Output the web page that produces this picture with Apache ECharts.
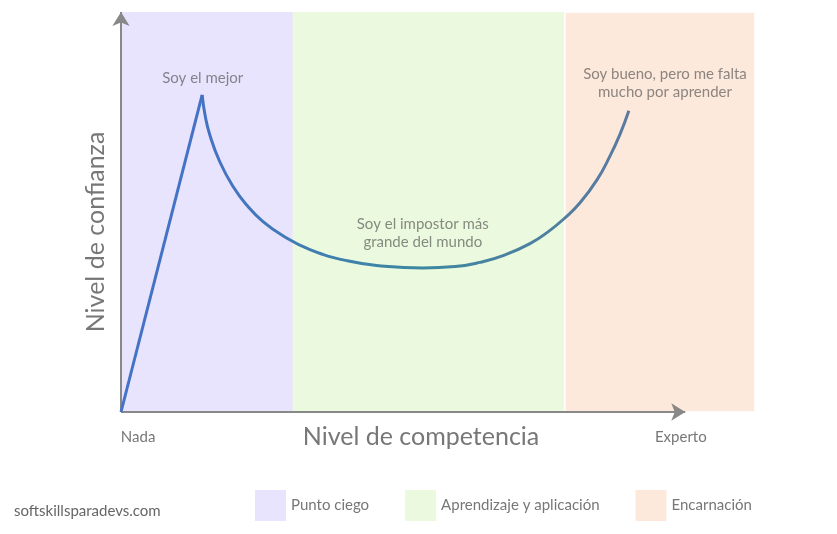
<!DOCTYPE html>
<html>
<head>
<meta charset="utf-8">
<script src="https://cdn.jsdelivr.net/npm/echarts@6/dist/echarts.min.js"></script>
<style>html,body{margin:0;padding:0;background:#fff}#c{width:837px;height:534px}</style>
</head>
<body>
<div id="c"></div>
<script>
// Data
const bandNames = ['Punto ciego', 'Aprendizaje y aplicación', 'Encarnación'];
const bandRanges = [[0, 27.1], [27.1, 70.0], [70.0, 100]];
const bandColors = ['#E9E4FD', '#EBF9DE', '#FDE9DC'];
const riseLine = [[0, 0], [12.8, 79.3]];
const curveLine = [
  [12.8, 79.3], [13.25, 74.3], [14.0, 69.3], [15.6, 62.5], [17.7, 56.3], [19.9, 51.6],
  [22.4, 47.6], [25.6, 44.0], [29.8, 40.6], [35.7, 37.8], [41.6, 36.45], [47.6, 36.0],
  [52.7, 36.35], [56.6, 37.4], [60.6, 39.3], [64.5, 42.1], [67.4, 45.1], [70.0, 48.5],
  [72.4, 52.3], [75.1, 58.1], [77.1, 63.9], [78.7, 69.4], [80.1, 75.3]
];
const notes = [
  { text: 'Soy el mejor', coord: [12.9, 83.5] },
  { text: 'Soy el impostor más\ngrande del mundo', coord: [47.6, 44.7] },
  { text: 'Soy bueno, pero me falta\nmucho por aprender', coord: [85.8, 82.3] }
];
const xTickValues = [2.7, 88.3];
const xTickLabels = ['Nada', 'Experto'];
const xAxisEnd = 89;
const yAxisEnd = 100;

const chart = echarts.init(document.getElementById('c'));
const font = 'Lato, "Noto Sans", sans-serif';
const axisColor = '#888';

const bandSeries = bandNames.map((n, i) => ({
  name: n,
  type: 'line',
  data: [],
  itemStyle: { color: bandColors[i] },
  lineStyle: { color: bandColors[i] },
  silent: true,
  z: 1,
  markArea: {
    silent: true,
    itemStyle: i === 2 ? { color: bandColors[i], borderColor: '#fff', borderWidth: 1.5 } : { color: bandColors[i] },
    data: [[{ xAxis: bandRanges[i][0] }, { xAxis: bandRanges[i][1] }]]
  }
}));

chart.setOption({
  animation: false,
  textStyle: { fontFamily: font },
  grid: { left: 121, right: 82, top: 12, bottom: 122 },
  title: {
    text: 'softskillsparadevs.com',
    left: 14, top: 504, padding: 0,
    textStyle: { fontFamily: font, fontSize: 15, fontWeight: 'normal', color: '#666' }
  },
  legend: {
    data: bandNames,
    left: 255, top: 490, padding: 0,
    icon: 'rect',
    itemWidth: 31, itemHeight: 31,
    itemGap: 36,
    selectedMode: false,
    textStyle: { fontFamily: font, fontSize: 15, color: '#777' }
  },
  xAxis: {
    type: 'value', min: 0, max: 100,
    splitLine: { show: false },
    axisTick: { show: false },
    axisLine: { show: false },
    axisLabel: {
      customValues: xTickValues,
      formatter: v => xTickLabels[xTickValues.indexOf(v)] ?? '',
      fontFamily: font, fontSize: 15, color: '#777', margin: 18
    },
    name: 'Nivel de competencia',
    nameLocation: 'middle',
    nameGap: 12,
    nameMoveOverlap: false,
    nameTextStyle: { fontFamily: font, fontSize: 25, color: '#777', padding: [0, 34, 0, 0] }
  },
  yAxis: {
    type: 'value', min: 0, max: 100,
    splitLine: { show: false },
    axisTick: { show: false },
    axisLine: { show: false },
    axisLabel: { show: false },
    name: 'Nivel de confianza',
    nameLocation: 'middle',
    nameGap: 13,
    nameMoveOverlap: false,
    nameTextStyle: { fontFamily: font, fontSize: 25, color: '#777', padding: [0, 40, 0, 0] }
  },
  series: [
    ...bandSeries,
    {
      name: 'axes', type: 'line', data: [], silent: true, z: 5,
      markLine: {
        silent: true,
        symbol: ['none', 'arrow'],
        symbolSize: [13, 14],
        label: { show: false },
        lineStyle: { color: axisColor, width: 2, type: 'solid' },
        data: [
          [{ coord: [0, 0] }, { coord: [xAxisEnd, 0] }],
          [{ coord: [0, 0] }, { coord: [0, yAxisEnd] }]
        ]
      }
    },
    {
      name: 'rise', type: 'line', data: riseLine, showSymbol: false, symbol: 'none', z: 6,
      lineStyle: { color: '#4472C4', width: 3 }
    },
    {
      name: 'curve', type: 'line', data: curveLine, smooth: 0.5,
      showSymbol: false, symbol: 'none', z: 6,
      lineStyle: {
        width: 3,
        color: new echarts.graphic.LinearGradient(0, 0, 1, 0, [
          { offset: 0, color: '#4472C4' },
          { offset: 0.5, color: '#3C88A0' },
          { offset: 1, color: '#5B7AA0' }
        ])
      },
      markPoint: {
        symbol: 'circle', symbolSize: 0,
        label: {
          show: true, position: 'inside',
          formatter: p => p.name,
          fontFamily: font, fontSize: 15, lineHeight: 18,
          color: 'rgba(70,70,70,0.62)', align: 'center'
        },
        data: notes.map(n => ({ name: n.text, coord: n.coord }))
      }
    }
  ]
});
</script>
</body>
</html>
